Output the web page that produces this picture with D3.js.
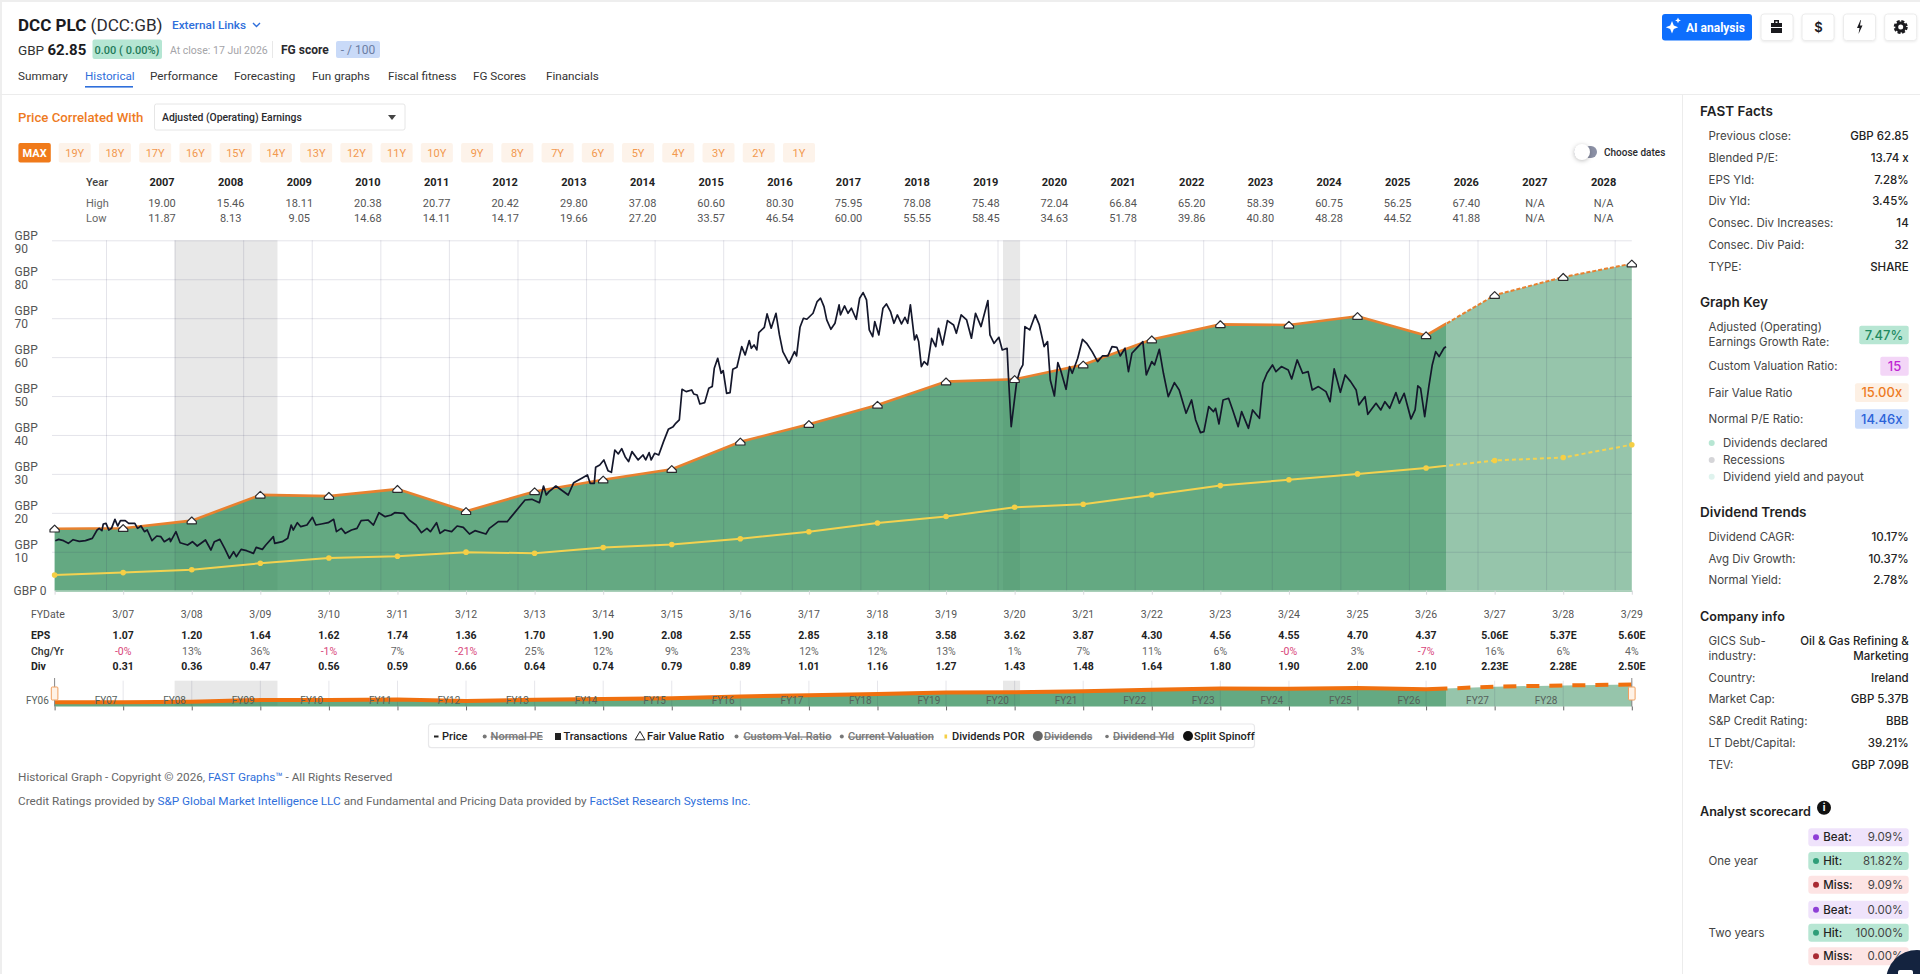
<!DOCTYPE html>
<html>
<head>
<meta charset="utf-8">
<title>DCC PLC - Historical</title>
<script src="https://cdn.jsdelivr.net/npm/d3@7"></script>
<style>
  html, body { margin: 0; padding: 0; background: #fff; overflow: hidden; }
  svg { display: block; font-family: Inter, Roboto, sans-serif; }
  .tbl { font-family: Roboto, sans-serif; }
</style>
</head>
<body>
<div id="chart"></div>
<script>
'use strict';

// Header table
var tableYears = ['2007','2008','2009','2010','2011','2012','2013','2014','2015','2016','2017','2018','2019','2020','2021','2022','2023','2024','2025','2026','2027','2028'];
var tableHigh = ['19.00','15.46','18.11','20.38','20.77','20.42','29.80','37.08','60.60','80.30','75.95','78.08','75.48','72.04','66.84','65.20','58.39','60.75','56.25','67.40','N/A','N/A'];
var tableLow = ['11.87','8.13','9.05','14.68','14.11','14.17','19.66','27.20','33.57','46.54','60.00','55.55','58.45','34.63','51.78','39.86','40.80','48.28','44.52','41.88','N/A','N/A'];

// Fiscal year rows (3/06 has a point on the chart but no column)
var fyDates = ['3/06','3/07','3/08','3/09','3/10','3/11','3/12','3/13','3/14','3/15','3/16','3/17','3/18','3/19','3/20','3/21','3/22','3/23','3/24','3/25','3/26','3/27','3/28','3/29'];
var epsLabels = ['','1.07','1.20','1.64','1.62','1.74','1.36','1.70','1.90','2.08','2.55','2.85','3.18','3.58','3.62','3.87','4.30','4.56','4.55','4.70','4.37','5.06E','5.37E','5.60E'];
var chgLabels = ['','-0%','13%','36%','-1%','7%','-21%','25%','12%','9%','23%','12%','12%','13%','1%','7%','11%','6%','-0%','3%','-7%','16%','6%','4%'];
var divLabels = ['','0.31','0.36','0.47','0.56','0.59','0.66','0.64','0.74','0.79','0.89','1.01','1.16','1.27','1.43','1.48','1.64','1.80','1.90','2.00','2.10','2.23E','2.28E','2.50E'];
var navLabels = ['FY06','FY07','FY08','FY09','FY10','FY11','FY12','FY13','FY14','FY15','FY16','FY17','FY18','FY19','FY20','FY21','FY22','FY23','FY24','FY25','FY26','FY27','FY28'];

// Chart series, GBP at each fiscal year end
var fairValue = [15.9,16.05,18.0,24.6,24.3,26.1,20.4,25.5,28.5,31.2,38.25,42.75,47.7,53.7,54.3,58.05,64.5,68.4,68.25,70.5,65.55,75.9,80.55,84.0];
var dividendPor = [4.05,4.65,5.4,7.05,8.4,8.85,9.9,9.6,11.1,11.85,13.35,15.15,17.4,19.05,21.45,22.2,24.6,27.0,28.5,30.0,31.5,33.45,34.2,37.5];

// Price, decimal year and GBP
var priceYears = [2006.26,2006.31,2006.38,2006.45,2006.52,2006.61,2006.70,2006.80,2006.87,2006.90,2006.94,2006.96,2007.00,2007.04,2007.08,2007.13,2007.17,2007.21,2007.28,2007.33,2007.42,2007.46,2007.51,2007.56,2007.60,2007.67,2007.74,2007.80,2007.85,2007.93,2007.94,2008.02,2008.08,2008.19,2008.26,2008.33,2008.45,2008.53,2008.58,2008.66,2008.73,2008.80,2008.86,2008.90,2008.97,2009.05,2009.15,2009.19,2009.28,2009.33,2009.44,2009.46,2009.57,2009.65,2009.70,2009.73,2009.79,2009.84,2009.93,2010.01,2010.06,2010.14,2010.24,2010.32,2010.36,2010.43,2010.49,2010.58,2010.66,2010.72,2010.82,2010.90,2010.98,2011.07,2011.16,2011.21,2011.34,2011.42,2011.52,2011.60,2011.68,2011.73,2011.82,2011.87,2011.94,2012.04,2012.12,2012.21,2012.30,2012.38,2012.54,2012.59,2012.72,2012.85,2012.95,2013.11,2013.21,2013.32,2013.38,2013.42,2013.46,2013.56,2013.74,2013.82,2013.95,2014.02,2014.06,2014.12,2014.14,2014.20,2014.26,2014.32,2014.37,2014.42,2014.47,2014.52,2014.57,2014.62,2014.67,2014.76,2014.83,2014.87,2014.92,2014.95,2015.00,2015.06,2015.13,2015.20,2015.27,2015.30,2015.36,2015.40,2015.46,2015.54,2015.57,2015.62,2015.66,2015.73,2015.79,2015.84,2015.87,2015.92,2015.97,2016.00,2016.05,2016.10,2016.14,2016.20,2016.27,2016.32,2016.38,2016.41,2016.45,2016.49,2016.52,2016.60,2016.64,2016.70,2016.77,2016.82,2016.87,2016.96,2017.04,2017.07,2017.12,2017.17,2017.22,2017.31,2017.37,2017.42,2017.47,2017.51,2017.57,2017.63,2017.69,2017.71,2017.77,2017.82,2017.87,2017.94,2017.99,2018.04,2018.09,2018.13,2018.18,2018.21,2018.27,2018.33,2018.38,2018.44,2018.49,2018.54,2018.60,2018.65,2018.69,2018.73,2018.79,2018.82,2018.85,2018.89,2018.93,2018.98,2019.04,2019.10,2019.14,2019.20,2019.27,2019.36,2019.40,2019.47,2019.55,2019.62,2019.68,2019.76,2019.86,2019.89,2019.95,2020.02,2020.07,2020.14,2020.16,2020.20,2020.25,2020.28,2020.33,2020.37,2020.40,2020.47,2020.55,2020.61,2020.68,2020.73,2020.77,2020.83,2020.88,2020.92,2021.00,2021.05,2021.09,2021.17,2021.24,2021.30,2021.38,2021.46,2021.53,2021.61,2021.67,2021.74,2021.79,2021.86,2021.91,2021.96,2022.05,2022.12,2022.17,2022.25,2022.29,2022.36,2022.42,2022.49,2022.58,2022.65,2022.75,2022.83,2022.89,2022.96,2023.01,2023.08,2023.15,2023.18,2023.23,2023.29,2023.37,2023.43,2023.51,2023.56,2023.66,2023.72,2023.82,2023.87,2023.93,2024.01,2024.06,2024.14,2024.24,2024.29,2024.37,2024.45,2024.53,2024.59,2024.68,2024.79,2024.85,2024.91,2025.00,2025.07,2025.15,2025.23,2025.27,2025.36,2025.40,2025.52,2025.59,2025.65,2025.72,2025.81,2025.86,2025.93,2026.03,2026.09,2026.13,2026.17,2026.23,2026.29,2026.34,2026.39,2026.44,2026.51,2026.54];
var priceValues = [12.85,13.19,12.85,12.16,13.10,12.68,12.85,13.45,15.59,16.02,15.42,17.13,17.30,15.59,16.02,18.33,16.62,17.99,17.99,17.30,17.30,16.02,16.62,15.16,15.59,12.85,14.05,13.88,12.59,13.45,12.59,15.16,12.33,11.73,12.59,11.48,13.02,10.45,12.59,13.19,10.88,8.31,10.02,8.74,10.62,10.28,9.59,11.13,10.62,11.73,13.88,12.16,12.59,13.45,16.87,15.59,17.47,16.44,16.87,18.84,16.87,17.13,17.47,18.33,15.16,16.02,14.73,15.59,16.02,17.99,18.16,16.87,20.04,19.01,19.44,20.04,19.87,18.16,16.87,14.90,16.02,15.16,17.47,14.73,15.59,15.16,16.62,16.27,14.56,15.42,14.56,16.02,17.73,17.73,19.87,23.30,23.47,22.61,26.89,24.58,25.44,26.89,24.58,27.75,29.04,29.72,27.58,27.58,31.69,32.29,33.58,30.83,30.41,36.14,35.12,36.49,34.43,33.15,35.72,33.58,34.86,33.58,35.46,33.58,35.29,34.86,38.29,41.45,42.14,42.83,43.85,51.73,51.13,51.56,50.53,50.28,47.96,48.31,51.99,52.42,57.13,59.70,55.84,56.53,50.70,50.88,56.87,57.39,62.70,60.55,64.24,62.27,63.12,61.84,66.29,67.66,71.09,67.41,71.26,65.69,61.41,58.41,61.41,60.30,67.66,69.98,69.72,71.26,74.26,75.12,72.97,69.55,67.15,68.69,73.40,70.83,73.15,71.26,72.55,69.72,75.12,76.57,74.69,66.98,65.27,69.12,65.69,72.55,73.66,71.69,68.69,70.83,68.52,70.23,68.69,73.40,64.41,65.69,63.98,57.56,58.84,57.99,64.84,62.70,67.41,63.12,69.38,68.26,66.12,70.83,69.55,64.84,71.26,67.84,74.52,65.69,63.55,65.09,61.84,62.27,54.99,42.14,49.42,53.70,56.70,57.99,67.84,66.98,70.83,68.26,62.70,63.98,54.13,50.02,58.58,56.70,51.73,57.56,55.84,59.70,64.58,63.55,61.41,58.84,60.30,60.30,62.70,62.52,60.30,62.27,56.27,60.98,62.70,63.98,55.42,58.84,57.99,62.01,55.84,49.85,53.45,51.56,45.57,48.99,43.85,40.60,40.86,47.28,45.99,46.85,42.83,48.99,49.42,46.42,42.14,45.99,41.71,46.42,44.28,53.27,55.84,57.99,56.27,57.56,56.70,54.39,59.27,55.84,56.27,51.56,52.42,51.13,48.56,56.96,50.96,55.42,53.70,51.56,47.71,49.85,45.31,48.14,46.42,48.56,46.85,50.88,48.14,50.70,44.11,46.42,52.59,51.99,44.71,52.42,57.99,61.41,60.13,62.27,62.70];

var recessions = [[2008.0, 2009.5], [2020.08, 2020.33]];
var lastClose = 2026.54;

var yTicks = [10, 20, 30, 40, 50, 60, 70, 80, 90];
var gridYears = d3.range(2007, 2030);

// Page text
var tabs = [['Summary', 18], ['Historical', 85], ['Performance', 150], ['Forecasting', 234], ['Fun graphs', 312], ['Fiscal fitness', 388], ['FG Scores', 473], ['Financials', 546]];
var rangeLabels = ['19Y','18Y','17Y','16Y','15Y','14Y','13Y','12Y','11Y','10Y','9Y','8Y','7Y','6Y','5Y','4Y','3Y','2Y','1Y'];
var fastFacts = [['Previous close:', 'GBP 62.85'], ['Blended P/E:', '13.74 x'], ['EPS Yld:', '7.28%'], ['Div Yld:', '3.45%'], ['Consec. Div Increases:', '14'], ['Consec. Div Paid:', '32'], ['TYPE:', 'SHARE']];
var dividendTrends = [['Dividend CAGR:', '10.17%'], ['Avg Div Growth:', '10.37%'], ['Normal Yield:', '2.78%']];
var companyInfo = [['Country:', 'Ireland'], ['Market Cap:', 'GBP 5.37B'], ['S&P Credit Rating:', 'BBB'], ['LT Debt/Capital:', '39.21%'], ['TEV:', 'GBP 7.09B']];
var scorecard = [['Beat:', '9.09%'], ['Hit:', '81.82%'], ['Miss:', '9.09%'], ['Beat:', '0.00%'], ['Hit:', '100.00%'], ['Miss:', '0.00%']];

var svg = d3.select('#chart').append('svg').attr('width', 1920).attr('height', 974);

function fyYear(label) {
  return 2000 + (+label.slice(2)) + 0.25;
}

function text(parent, x, y, str, o) {
  o = o || {};
  return parent.append('text')
    .attr('class', o.cls || null)
    .attr('x', x)
    .attr('y', y)
    .attr('dy', '0.35em')
    .attr('text-anchor', o.anchor || 'start')
    .attr('font-size', o.size || 12)
    .attr('font-weight', o.weight || 400)
    .attr('fill', o.fill || '#333')
    .attr('text-decoration', o.strike ? 'line-through' : null)
    .text(str);
}

function pill(parent, x, y, w, h, fill, r) {
  return parent.append('rect')
    .attr('x', x).attr('y', y).attr('width', w).attr('height', h)
    .attr('rx', r === undefined ? 3 : r)
    .attr('fill', fill);
}

// Fair value marker, a small house shape
var houseSymbol = {
  draw: function(ctx) {
    ctx.moveTo(-4.6, 3.2);
    ctx.lineTo(4.6, 3.2);
    ctx.lineTo(4.6, 1);
    ctx.lineTo(0, -3.6);
    ctx.lineTo(-4.6, 1);
    ctx.closePath();
  }
};

// ---- page frame ----
pill(svg, 0, 0, 1920, 2, '#eeeeee', 0);
pill(svg, 0, 0, 2, 974, '#eeeeee', 0);
pill(svg, 0, 94, 1920, 1, '#ececec', 0);
pill(svg, 1682, 94, 1, 880, '#ececec', 0);

// ---- header ----
var head = svg.append('g');
text(head, 18, 25, 'DCC PLC', {cls: 'tbl', size: 17, weight: 700, fill: '#1b1b1f'});
text(head, 90.5, 25, '(DCC:GB)', {cls: 'tbl', size: 17.2, fill: '#2b2b30'});
text(head, 172, 25, 'External Links', {cls: 'tbl', size: 11.8, fill: '#2f6fdb', weight: 500});
head.append('path').attr('d', 'M253,23 l3.5,3.5 l3.5,-3.5').attr('fill', 'none').attr('stroke', '#2f6fdb').attr('stroke-width', 1.4);

text(head, 18, 50, 'GBP', {cls: 'tbl', size: 13.5, fill: '#333'});
text(head, 47.5, 50, '62.85', {cls: 'tbl', size: 15, weight: 700, fill: '#1b1b1f'});
pill(head, 92.5, 39.5, 69.5, 19.5, '#b5e6d3', 2);
text(head, 127, 50, '0.00 ( 0.00%)', {cls: 'tbl', size: 11, weight: 500, anchor: 'middle', fill: '#1f7a5a'});
text(head, 170, 50, 'At close: 17 Jul 2026', {cls: 'tbl', size: 10.5, fill: '#a4a4a8'});
pill(head, 272, 41, 1, 17, '#e8e8e8', 0);
text(head, 281, 50, 'FG score', {cls: 'tbl', size: 12, weight: 700, fill: '#2a2a2e'});
pill(head, 336, 41, 44, 17, '#c9daf8', 2);
text(head, 358, 50, '- / 100', {cls: 'tbl', size: 12, anchor: 'middle', fill: '#6c7ea3'});

tabs.forEach(function(t) {
  var on = t[0] === 'Historical';
  text(head, t[1], 75.5, t[0], {cls: 'tbl', size: 11.7, fill: on ? '#2f6fdb' : '#333'});
});
pill(head, 85, 86, 48, 1.6, '#2f6fdb', 0);

// Top right buttons
pill(head, 1662, 14, 90, 26.5, '#0d6efd', 3);
head.append('path').attr('fill', '#fff')
  .attr('d', 'M1672,21 l1.8,4.4 l4.4,1.8 l-4.4,1.8 l-1.8,4.4 l-1.8,-4.4 l-4.4,-1.8 l4.4,-1.8 z M1678,17.5 l.9,2 l2,.9 l-2,.9 l-.9,2 l-.9,-2 l-2,-.9 l2,-.9 z');
text(head, 1686, 27.5, 'AI analysis', {cls: 'tbl', size: 12, weight: 700, fill: '#fff'});
[1761, 1802, 1843.5, 1884.7].forEach(function(x) {
  pill(head, x, 14, 32, 26.5, '#fff', 3).attr('stroke', '#ececec').style('filter', 'drop-shadow(0 1px 1px rgba(0,0,0,.08))');
});
head.append('path').attr('fill', '#1b1b1f').attr('d', 'M1771,23 h3 v-3 h5 v3 h3 v10 h-11 z M1775.5,21.5 v1.5 h2 v-1.5 z');
pill(head, 1771, 27, 11, 1, '#fff', 0);
text(head, 1818.5, 27.5, '$', {size: 13, weight: 600, anchor: 'middle', fill: '#1b1b1f'});
head.append('path').attr('fill', '#1b1b1f').attr('d', 'M1860.5,20 l-3.5,8 h2.5 l-1,6 l4,-8.5 h-2.5 l1,-5.5 z');
head.append('circle').attr('cx', 1900.7).attr('cy', 27).attr('r', 4).attr('fill', 'none').attr('stroke', '#1b1b1f').attr('stroke-width', 3);
head.append('circle').attr('cx', 1900.7).attr('cy', 27).attr('r', 6).attr('fill', 'none').attr('stroke', '#1b1b1f').attr('stroke-width', 2).attr('stroke-dasharray', '3 1.7');

// Selector row
text(head, 18, 117, 'Price Correlated With', {cls: 'tbl', size: 13.2, weight: 500, fill: '#ee7b1f'});
pill(head, 154.5, 104, 250.5, 26, '#fff', 2).attr('stroke', '#e6e6e6');
text(head, 162, 117, 'Adjusted (Operating) Earnings', {cls: 'tbl', size: 10.4, weight: 500, fill: '#2a2a2e'});
head.append('path').attr('d', 'M388,115 h8 l-4,5 z').attr('fill', '#444');

// Range buttons
var rangeX = d3.scalePoint().domain(rangeLabels).range([74.7, 799]);
pill(head, 18.4, 143, 32.4, 19.5, '#f07a1a', 2);
text(head, 34.6, 153, 'MAX', {cls: 'tbl', size: 11, weight: 700, anchor: 'middle', fill: '#fff'});
rangeLabels.forEach(function(d) {
  pill(head, rangeX(d) - 16, 143, 32, 19.5, '#fdf3ea', 2);
  text(head, rangeX(d), 153, d, {cls: 'tbl', size: 11, anchor: 'middle', fill: '#f2994f'});
});

// Date toggle
pill(head, 1574, 146, 23, 12, '#8b90a5', 6);
head.append('circle').attr('cx', 1582).attr('cy', 152).attr('r', 8).attr('fill', '#fff').style('filter', 'drop-shadow(0 1px 2px rgba(0,0,0,.25))');
text(head, 1604, 152, 'Choose dates', {cls: 'tbl', size: 10, weight: 500, fill: '#2a2a2e'});

// ---- year table ----
var tableX = d3.scalePoint().domain(tableYears).range([162, 1603.6]);
var yearTable = svg.append('g');
text(yearTable, 86, 181.7, 'Year', {cls: 'tbl', size: 11, weight: 500, fill: '#444'});
text(yearTable, 86, 202.7, 'High', {cls: 'tbl', size: 11, fill: '#666'});
text(yearTable, 86, 218, 'Low', {cls: 'tbl', size: 11, fill: '#666'});
tableYears.forEach(function(y, i) {
  text(yearTable, tableX(y), 181.7, y, {cls: 'tbl', size: 11, weight: 700, anchor: 'middle', fill: '#222'});
  text(yearTable, tableX(y), 202.7, tableHigh[i], {cls: 'tbl', size: 11, anchor: 'middle', fill: '#555'});
  text(yearTable, tableX(y), 218, tableLow[i], {cls: 'tbl', size: 11, anchor: 'middle', fill: '#555'});
});

// ---- main chart ----
var xStart = 2006.25, xEnd = 2029.25;
var xScale = d3.scaleLinear().domain([xStart, xEnd]).range([54.6, 1631.8]);
var yScale = d3.scaleLinear().domain([0, 90]).range([590.7, 240.3]);
var navY = d3.scaleLinear().domain([0, 100]).range([706.4, 680.4]);

var points = fyDates.map(function(d, i) {
  return {year: fyYear(d), fair: fairValue[i], div: dividendPor[i]};
});
var price = priceYears.map(function(y, i) { return {year: y, value: priceValues[i]}; });

var defs = svg.append('defs');
defs.append('clipPath').attr('id', 'past').append('rect')
  .attr('x', 0).attr('y', 0).attr('width', xScale(lastClose)).attr('height', 974);
defs.append('clipPath').attr('id', 'future').append('rect')
  .attr('x', xScale(lastClose)).attr('y', 0).attr('width', 1920 - xScale(lastClose)).attr('height', 974);

var plot = svg.append('g');

recessions.forEach(function(r) {
  pill(plot, xScale(r[0]), yScale(90), xScale(r[1]) - xScale(r[0]), yScale(0) - yScale(90), '#e8e8e8', 0);
});

var area = d3.area()
  .x(function(d) { return xScale(d.year); })
  .y0(yScale(0))
  .y1(function(d) { return yScale(d.fair); });
plot.append('path').datum(points).attr('d', area).attr('fill', '#2e8b57').attr('fill-opacity', 0.74).attr('clip-path', 'url(#past)');
plot.append('path').datum(points).attr('d', area).attr('fill', '#2e8b57').attr('fill-opacity', 0.5).attr('clip-path', 'url(#future)');

// Grid sits over the area, it shows through as darker lines
var yGrid = d3.axisLeft(yScale).tickValues(yTicks).tickSize(-(xScale(xEnd) - 52)).tickFormat('');
var xGrid = d3.axisBottom(xScale).tickValues(gridYears).tickSize(-(yScale(0) - yScale(90))).tickFormat('');
plot.append('g').attr('transform', 'translate(52,0)').call(yGrid)
  .call(function(g) { g.select('.domain').remove(); })
  .selectAll('line').attr('stroke', 'rgba(50,50,90,0.13)');
plot.append('g').attr('transform', 'translate(0,' + yScale(0) + ')').call(xGrid)
  .call(function(g) { g.select('.domain').remove(); })
  .selectAll('line').attr('stroke', 'rgba(50,50,90,0.13)');

// FY ticks under the axis
var fyAxis = d3.axisBottom(xScale).tickValues(points.map(function(d) { return d.year; })).tickSize(4).tickSizeOuter(0).tickFormat('');
plot.append('g').attr('transform', 'translate(0,' + yScale(0) + ')').call(fyAxis)
  .call(function(g) { g.select('.domain').attr('stroke', '#a9cfb9').attr('stroke-width', 1.5); })
  .selectAll('line').attr('stroke', '#d8d8dc');

// Y labels
var yLabels = svg.append('g');
yTicks.forEach(function(v) {
  var off = v === 90 ? 2 : 0;
  text(yLabels, 14.6, yScale(v) - 7 + off, 'GBP', {cls: 'tbl', size: 12, fill: '#555'});
  text(yLabels, 14.6, yScale(v) + 6 + off, v, {cls: 'tbl', size: 12, fill: '#555'});
});
text(yLabels, 46.5, yScale(0) + 0.5, 'GBP 0', {cls: 'tbl', size: 12, anchor: 'end', fill: '#555'});

var fairLine = d3.line().x(function(d) { return xScale(d.year); }).y(function(d) { return yScale(d.fair); });
var divLine = d3.line().x(function(d) { return xScale(d.year); }).y(function(d) { return yScale(d.div); });
var priceLine = d3.line().x(function(d) { return xScale(d.year); }).y(function(d) { return yScale(d.value); });

plot.append('path').datum(points).attr('d', divLine).attr('fill', 'none').attr('stroke', '#f3d250').attr('stroke-width', 2).attr('clip-path', 'url(#past)');
plot.append('path').datum(points).attr('d', divLine).attr('fill', 'none').attr('stroke', '#f3d250').attr('stroke-width', 2).attr('stroke-dasharray', '4 3').attr('clip-path', 'url(#future)');
plot.selectAll('.div-dot').data(points).enter().append('circle')
  .attr('class', 'div-dot')
  .attr('cx', function(d) { return xScale(d.year); })
  .attr('cy', function(d) { return yScale(d.div); })
  .attr('r', 2.8)
  .attr('fill', '#f5cf45');

plot.append('path').datum(points).attr('d', fairLine).attr('fill', 'none').attr('stroke', '#e8812f').attr('stroke-width', 2.6).attr('clip-path', 'url(#past)');
plot.append('path').datum(points).attr('d', fairLine).attr('fill', 'none').attr('stroke', '#e8812f').attr('stroke-width', 2).attr('stroke-dasharray', '4 2').attr('clip-path', 'url(#future)');

plot.append('path').datum(price).attr('d', priceLine).attr('fill', 'none').attr('stroke', '#14172b').attr('stroke-width', 1.7).attr('stroke-linejoin', 'round');

var houseMark = d3.symbol().type(houseSymbol);
plot.selectAll('.fv-mark').data(points).enter().append('path')
  .attr('class', 'fv-mark')
  .attr('d', houseMark)
  .attr('transform', function(d) { return 'translate(' + xScale(d.year) + ',' + yScale(d.fair) + ')'; })
  .attr('fill', '#fff')
  .attr('stroke', '#2a2a2e')
  .attr('stroke-width', 1.2)
  .attr('stroke-linejoin', 'round');

// ---- fiscal year table ----
var fyTable = svg.append('g');
text(fyTable, 31, 614.7, 'FYDate', {cls: 'tbl', size: 10.5, fill: '#555'});
text(fyTable, 31, 635.7, 'EPS', {cls: 'tbl', size: 10.5, weight: 700, fill: '#222'});
text(fyTable, 31, 651, 'Chg/Yr', {cls: 'tbl', size: 10.5, weight: 500, fill: '#333'});
text(fyTable, 31, 666, 'Div', {cls: 'tbl', size: 10.5, weight: 700, fill: '#222'});
fyDates.forEach(function(d, i) {
  if (i === 0) return;
  var cx = xScale(fyYear(d));
  var neg = chgLabels[i].charAt(0) === '-';
  text(fyTable, cx, 614.7, d, {cls: 'tbl', size: 10.5, anchor: 'middle', fill: '#555'});
  text(fyTable, cx, 635.7, epsLabels[i], {cls: 'tbl', size: 10.5, weight: 700, anchor: 'middle', fill: '#222'});
  text(fyTable, cx, 651, chgLabels[i], {cls: 'tbl', size: 10.5, anchor: 'middle', fill: neg ? '#d8457a' : '#666'});
  text(fyTable, cx, 666, divLabels[i], {cls: 'tbl', size: 10.5, weight: 700, anchor: 'middle', fill: '#222'});
});

// ---- navigator ----
var nav = svg.append('g');
recessions.forEach(function(r) {
  pill(nav, xScale(r[0]), 680.7, xScale(r[1]) - xScale(r[0]), 25, '#e8e8e8', 0);
});
var navArea = d3.area().x(function(d) { return xScale(d.year); }).y0(navY(0)).y1(function(d) { return navY(d.fair); });
var navLine = d3.line().x(function(d) { return xScale(d.year); }).y(function(d) { return navY(d.fair); });
nav.append('path').datum(points).attr('d', navArea).attr('fill', '#2e8b57').attr('fill-opacity', 0.74).attr('clip-path', 'url(#past)');
nav.append('path').datum(points).attr('d', navArea).attr('fill', '#2e8b57').attr('fill-opacity', 0.5).attr('clip-path', 'url(#future)');
var navTicks = d3.axisBottom(xScale).tickValues(points.map(function(d) { return d.year; })).tickSize(4).tickSizeOuter(0).tickFormat('');
nav.append('g').attr('transform', 'translate(0,' + navY(0) + ')').call(navTicks)
  .call(function(g) { g.select('.domain').remove(); })
  .selectAll('line').attr('stroke', '#666');
points.forEach(function(d) {
  nav.append('line').attr('x1', xScale(d.year)).attr('x2', xScale(d.year)).attr('y1', 680.7).attr('y2', navY(0)).attr('stroke', 'rgba(50,50,90,0.12)');
});
nav.append('path').datum(points).attr('d', navLine).attr('fill', 'none').attr('stroke', '#f0700f').attr('stroke-width', 4).attr('clip-path', 'url(#past)');
nav.append('path').datum(points).attr('d', navLine).attr('fill', 'none').attr('stroke', '#f0700f').attr('stroke-width', 4).attr('stroke-dasharray', '13 10').attr('clip-path', 'url(#future)');
navLabels.forEach(function(d) {
  var yr = 2000 + (+d.slice(2));
  text(nav, xScale(yr), 700, d, {cls: 'tbl', size: 10, anchor: 'middle', fill: '#55605a'});
});
[xStart, xEnd].forEach(function(y) {
  nav.append('line').attr('x1', xScale(y)).attr('x2', xScale(y)).attr('y1', 678).attr('y2', navY(0)).attr('stroke', '#888');
  pill(nav, xScale(y) - 3.3, 687, 6.6, 13, '#fff2e6', 1).attr('stroke', '#f0a060');
});

// ---- legend ----
var legend = svg.append('g');
pill(legend, 428.5, 724, 826, 23.7, '#fff', 3).attr('stroke', '#e8e8ea').attr('stroke-width', 1.2);
var legendY = 736.5;
function legendText(x, str, strike) {
  text(legend, x, legendY, str, {cls: 'tbl', size: 11, weight: 500, fill: strike ? '#777' : '#222', strike: strike});
}
pill(legend, 434, legendY - 1, 4.5, 2, '#222', 0);
legendText(442, 'Price');
legend.append('circle').attr('cx', 484.7).attr('cy', legendY).attr('r', 2).attr('fill', '#777');
legendText(490.6, 'Normal PE', true);
pill(legend, 555, legendY - 3.5, 6, 7, '#222', 0);
legendText(563.5, 'Transactions');
legend.append('path').attr('d', d3.symbol().type(d3.symbolTriangle).size(42)).attr('transform', 'translate(640,' + (legendY + 0.5) + ')').attr('fill', '#fff').attr('stroke', '#222');
legendText(647, 'Fair Value Ratio');
legend.append('circle').attr('cx', 736.5).attr('cy', legendY).attr('r', 2).attr('fill', '#777');
legendText(743.4, 'Custom Val. Ratio', true);
legend.append('circle').attr('cx', 841.8).attr('cy', legendY).attr('r', 2).attr('fill', '#777');
legendText(848, 'Current Valuation', true);
pill(legend, 944.5, legendY - 2, 2.6, 4, '#f5cf45', 0);
legendText(952, 'Dividends POR');
legend.append('circle').attr('cx', 1037.8).attr('cy', legendY - 0.5).attr('r', 5).attr('fill', '#666');
legendText(1044, 'Dividends', true);
legend.append('circle').attr('cx', 1107).attr('cy', legendY).attr('r', 1.8).attr('fill', '#777');
legendText(1113, 'Dividend Yld', true);
legend.append('circle').attr('cx', 1188).attr('cy', legendY - 0.5).attr('r', 5).attr('fill', '#111');
legendText(1194, 'Split Spinoff');

// ---- footer ----
var foot = svg.append('g');
var line1 = text(foot, 18, 777, '', {cls: 'tbl', size: 11.75, fill: '#666'});
line1.append('tspan').text('Historical Graph - Copyright © 2026, ');
line1.append('tspan').attr('fill', '#2f6fdb').text('FAST Graphs™');
line1.append('tspan').text(' - All Rights Reserved');
var line2 = text(foot, 18, 800.7, '', {cls: 'tbl', size: 11.75, fill: '#666'});
line2.append('tspan').text('Credit Ratings provided by ');
line2.append('tspan').attr('fill', '#2f6fdb').text('S&P Global Market Intelligence LLC');
line2.append('tspan').text(' and Fundamental and Pricing Data provided by ');
line2.append('tspan').attr('fill', '#2f6fdb').text('FactSet Research Systems Inc.');

// ---- right panel ----
var side = svg.append('g');
var labelX = 1708.5, valueX = 1908.7;
function heading(y, str, size) {
  text(side, 1700, y, str, {size: size || 13.5, weight: 600, fill: '#1f1f24'});
}
function factRows(rows, ys) {
  rows.forEach(function(r, i) {
    text(side, labelX, ys[i], r[0], {size: 11.5, fill: '#444'});
    text(side, valueX, ys[i], r[1], {size: 11.5, weight: 500, anchor: 'end', fill: '#222'});
  });
}
heading(111.7, 'FAST Facts');
factRows(fastFacts, [135.7, 158, 179.7, 201, 223.3, 245, 266.7]);

heading(302.7, 'Graph Key');
text(side, labelX, 327.3, 'Adjusted (Operating)', {size: 11.5, fill: '#444'});
text(side, labelX, 342.3, 'Earnings Growth Rate:', {size: 11.5, fill: '#444'});
pill(side, 1859.3, 325.7, 49.4, 18.6, '#b7e6d3', 2);
text(side, 1884, 335.2, '7.47%', {size: 13, weight: 500, anchor: 'middle', fill: '#1f8a62'});
text(side, labelX, 366.3, 'Custom Valuation Ratio:', {size: 11.5, fill: '#444'});
pill(side, 1880.3, 356.7, 28.4, 19, '#f3d6f7', 2);
text(side, 1894.5, 366.3, '15', {size: 13, weight: 500, anchor: 'middle', fill: '#c026d3'});
text(side, labelX, 392.7, 'Fair Value Ratio', {size: 11.5, fill: '#444'});
pill(side, 1855, 383.3, 53.7, 18.7, '#fdf0e4', 2);
text(side, 1881.8, 392.7, '15.00x', {size: 13, weight: 500, anchor: 'middle', fill: '#ee7b1f'});
text(side, labelX, 419, 'Normal P/E Ratio:', {size: 11.5, fill: '#444'});
pill(side, 1855, 409.3, 53.7, 19.4, '#c9dbfb', 2);
text(side, 1881.8, 419, '14.46x', {size: 13, weight: 500, anchor: 'middle', fill: '#2b63d9'});
[['Dividends declared', '#b7e6d3', 443], ['Recessions', '#d5d5d8', 460], ['Dividend yield and payout', '#dff3ee', 476.7]].forEach(function(k) {
  side.append('circle').attr('cx', 1711.7).attr('cy', k[2]).attr('r', 3).attr('fill', k[1]);
  text(side, 1723, k[2], k[0], {size: 11.5, fill: '#444'});
});

heading(512.3, 'Dividend Trends');
factRows(dividendTrends, [537, 558.7, 580.3]);

heading(616.3, 'Company info', 12.6);
text(side, labelX, 640.7, 'GICS Sub-', {size: 11.5, fill: '#444'});
text(side, labelX, 655.7, 'industry:', {size: 11.5, fill: '#444'});
text(side, valueX, 640.7, 'Oil & Gas Refining &', {size: 11.5, weight: 500, anchor: 'end', fill: '#222'});
text(side, valueX, 655.7, 'Marketing', {size: 11.5, weight: 500, anchor: 'end', fill: '#222'});
factRows(companyInfo, [677.7, 699.3, 721, 743, 764.7]);

heading(811.3, 'Analyst scorecard', 12.6);
side.append('circle').attr('cx', 1824).attr('cy', 807.7).attr('r', 7).attr('fill', '#111');
text(side, 1824, 807.7, 'i', {size: 10, weight: 700, anchor: 'middle', fill: '#fff'});
text(side, labelX, 861, 'One year', {size: 11.5, fill: '#444'});
text(side, labelX, 933, 'Two years', {size: 11.5, fill: '#444'});

var scoreTop = [828.3, 852, 875.7, 900.7, 923.7, 947.3];
var scoreColors = {'Beat:': ['#efe3fb', '#8e3fd6'], 'Hit:': ['#b7e6d3', '#2f9e78'], 'Miss:': ['#fde4e4', '#a92b33']};
scorecard.forEach(function(s, i) {
  var c = scoreColors[s[0]];
  pill(side, 1808.3, scoreTop[i], 100.4, 18, c[0], 3);
  side.append('circle').attr('cx', 1816).attr('cy', scoreTop[i] + 9).attr('r', 3).attr('fill', c[1]);
  text(side, 1823.3, scoreTop[i] + 9, s[0], {size: 11.5, weight: 500, fill: '#222'});
  text(side, 1903.3, scoreTop[i] + 9, s[1], {size: 11.5, anchor: 'end', fill: '#444'});
});

// Chat bubble in the corner
side.append('circle').attr('cx', 1917).attr('cy', 981).attr('r', 31).attr('fill', '#14233f');
pill(side, 1898, 970, 15, 10, '#fff', 2);
</script>
</body>
</html>
